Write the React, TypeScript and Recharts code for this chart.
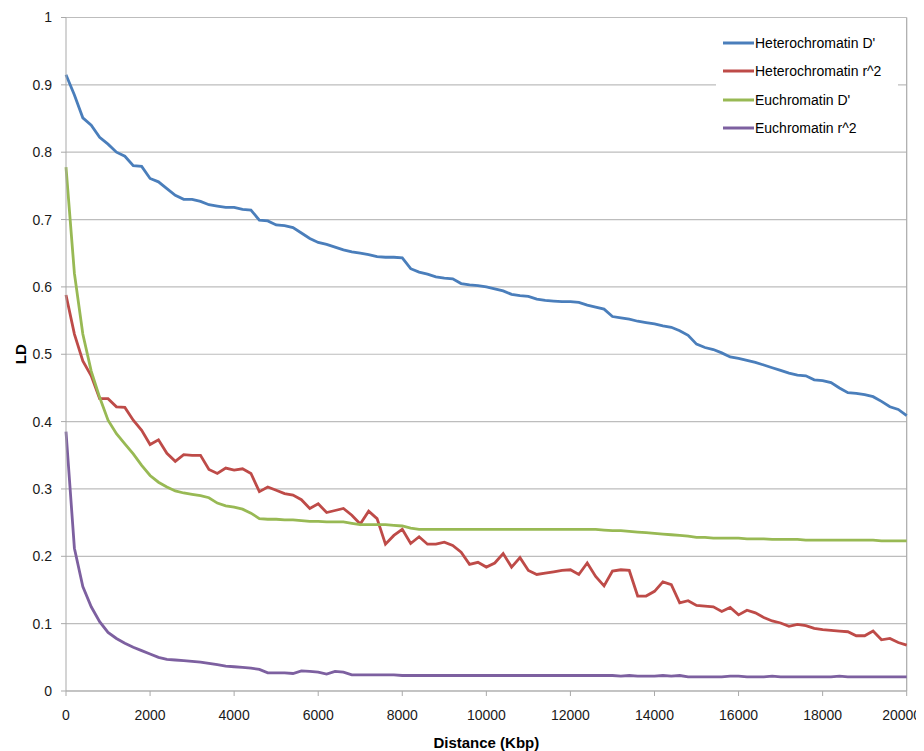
import React from 'react';
import { LineChart, Line, XAxis, YAxis, CartesianGrid, Legend, ReferenceLine, Label } from 'recharts';

const distances: number[] = [
  0, 200, 400, 600, 800, 1000, 1200, 1400, 1600, 1800,
  2000, 2200, 2400, 2600, 2800, 3000, 3200, 3400, 3600, 3800,
  4000, 4200, 4400, 4600, 4800, 5000, 5200, 5400, 5600, 5800,
  6000, 6200, 6400, 6600, 6800, 7000, 7200, 7400, 7600, 7800,
  8000, 8200, 8400, 8600, 8800, 9000, 9200, 9400, 9600, 9800,
  10000, 10200, 10400, 10600, 10800, 11000, 11200, 11400, 11600, 11800,
  12000, 12200, 12400, 12600, 12800, 13000, 13200, 13400, 13600, 13800,
  14000, 14200, 14400, 14600, 14800, 15000, 15200, 15400, 15600, 15800,
  16000, 16200, 16400, 16600, 16800, 17000, 17200, 17400, 17600, 17800,
  18000, 18200, 18400, 18600, 18800, 19000, 19200, 19400, 19600, 19800,
  20000,
];

const heteroD: number[] = [
  0.915, 0.885, 0.851, 0.840, 0.822, 0.812, 0.800, 0.794, 0.780, 0.779,
  0.761, 0.756, 0.746, 0.736, 0.730, 0.730, 0.727, 0.722, 0.720, 0.718,
  0.718, 0.715, 0.714, 0.699, 0.698, 0.692, 0.691, 0.688, 0.680, 0.672,
  0.666, 0.663, 0.659, 0.655, 0.652, 0.650, 0.648, 0.645, 0.644, 0.644,
  0.643, 0.627, 0.622, 0.619, 0.615, 0.613, 0.612, 0.605, 0.603, 0.602,
  0.600, 0.597, 0.594, 0.589, 0.587, 0.586, 0.582, 0.580, 0.579, 0.578,
  0.578, 0.577, 0.573, 0.570, 0.567, 0.556, 0.554, 0.552, 0.549, 0.547,
  0.545, 0.542, 0.540, 0.535, 0.528, 0.515, 0.510, 0.507, 0.502, 0.496,
  0.494, 0.491, 0.488, 0.484, 0.480, 0.476, 0.472, 0.469, 0.468, 0.462,
  0.461, 0.458, 0.450, 0.443, 0.442, 0.440, 0.437, 0.430, 0.422, 0.418,
  0.409,
];

const heteroR2: number[] = [
  0.588, 0.530, 0.490, 0.468, 0.434, 0.434, 0.422, 0.421, 0.402, 0.387,
  0.366, 0.373, 0.353, 0.341, 0.351, 0.350, 0.350, 0.329, 0.323, 0.331,
  0.328, 0.330, 0.323, 0.296, 0.303, 0.298, 0.293, 0.291, 0.284, 0.271,
  0.278, 0.265, 0.268, 0.271, 0.261, 0.248, 0.267, 0.256, 0.218, 0.231,
  0.240, 0.219, 0.229, 0.218, 0.218, 0.221, 0.216, 0.206, 0.188, 0.191,
  0.184, 0.190, 0.204, 0.184, 0.198, 0.179, 0.173, 0.175, 0.177, 0.179,
  0.180, 0.173, 0.190, 0.170, 0.156, 0.178, 0.180, 0.179, 0.141, 0.141,
  0.148, 0.162, 0.158, 0.131, 0.134, 0.127, 0.126, 0.125, 0.118, 0.124,
  0.113, 0.120, 0.116, 0.109, 0.104, 0.101, 0.096, 0.099, 0.097, 0.093,
  0.091, 0.090, 0.089, 0.088, 0.082, 0.082, 0.089, 0.076, 0.078, 0.072,
  0.068,
];

const euD: number[] = [
  0.778, 0.620, 0.530, 0.475, 0.436, 0.402, 0.382, 0.367, 0.352, 0.335,
  0.320, 0.310, 0.303, 0.297, 0.294, 0.292, 0.290, 0.287, 0.279, 0.275,
  0.273, 0.270, 0.264, 0.256, 0.255, 0.255, 0.254, 0.254, 0.253, 0.252,
  0.252, 0.251, 0.251, 0.251, 0.249, 0.247, 0.247, 0.247, 0.247, 0.246,
  0.245, 0.242, 0.240, 0.240, 0.240, 0.240, 0.240, 0.240, 0.240, 0.240,
  0.240, 0.240, 0.240, 0.240, 0.240, 0.240, 0.240, 0.240, 0.240, 0.240,
  0.240, 0.240, 0.240, 0.240, 0.239, 0.238, 0.238, 0.237, 0.236, 0.235,
  0.234, 0.233, 0.232, 0.231, 0.230, 0.228, 0.228, 0.227, 0.227, 0.227,
  0.227, 0.226, 0.226, 0.226, 0.225, 0.225, 0.225, 0.225, 0.224, 0.224,
  0.224, 0.224, 0.224, 0.224, 0.224, 0.224, 0.224, 0.223, 0.223, 0.223,
  0.223,
];

const euR2: number[] = [
  0.385, 0.212, 0.155, 0.125, 0.103, 0.087, 0.078, 0.071, 0.065, 0.060,
  0.055, 0.050, 0.047, 0.046, 0.045, 0.044, 0.043, 0.041, 0.039, 0.037,
  0.036, 0.035, 0.034, 0.032, 0.027, 0.027, 0.027, 0.026, 0.030, 0.029,
  0.028, 0.025, 0.029, 0.028, 0.024, 0.024, 0.024, 0.024, 0.024, 0.024,
  0.023, 0.023, 0.023, 0.023, 0.023, 0.023, 0.023, 0.023, 0.023, 0.023,
  0.023, 0.023, 0.023, 0.023, 0.023, 0.023, 0.023, 0.023, 0.023, 0.023,
  0.023, 0.023, 0.023, 0.023, 0.023, 0.023, 0.022, 0.023, 0.022, 0.022,
  0.022, 0.023, 0.022, 0.023, 0.021, 0.021, 0.021, 0.021, 0.021, 0.022,
  0.022, 0.021, 0.021, 0.021, 0.022, 0.021, 0.021, 0.021, 0.021, 0.021,
  0.021, 0.021, 0.022, 0.021, 0.021, 0.021, 0.021, 0.021, 0.021, 0.021,
  0.021,
];

const xTicks: number[] = [0, 2000, 4000, 6000, 8000, 10000, 12000, 14000, 16000, 18000, 20000];
const yTicks: number[] = [0, 0.1, 0.2, 0.3, 0.4, 0.5, 0.6, 0.7, 0.8, 0.9, 1];

const seriesNames: string[] = ['Heterochromatin D\'', 'Heterochromatin r^2', 'Euchromatin D\'', 'Euchromatin r^2'];
const seriesKeys: string[] = ['heteroD', 'heteroR2', 'euD', 'euR2'];
const seriesColors: string[] = ['#4a7ebb', '#be4b48', '#98b954', '#7d60a0'];

const data = distances.map((d, i) => ({
  distance: d,
  heteroD: heteroD[i],
  heteroR2: heteroR2[i],
  euD: euD[i],
  euR2: euR2[i],
}));

const FONT = '"Liberation Sans", Arial, sans-serif';

const renderLegend = () => (
  <div style={{ background: '#ffffff', padding: '0 0 0 7px', fontFamily: FONT, fontSize: 14, color: '#000' }}>
    {seriesNames.map((n, i) => (
      <div key={n} style={{ display: 'flex', alignItems: 'center', height: 28.3 }}>
        <svg width={31} height={4} style={{ display: 'block' }}>
          <line x1={0} y1={2} x2={31} y2={2} stroke={seriesColors[i]} strokeWidth={3} />
        </svg>
        <span style={{ marginLeft: 1, whiteSpace: 'nowrap' }}>{n}</span>
      </div>
    ))}
  </div>
);

const XTick = (props: any) => {
  const { x, y, payload } = props;
  const last = payload.value === xTicks[xTicks.length - 1];
  return (
    <text
      x={last ? x - 5 : x}
      y={y}
      dy="0.71em"
      textAnchor="middle"
      fill="#1a1a1a"
      fontSize={14}
      fontFamily={FONT}
    >
      {payload.value}
    </text>
  );
};

export default function App() {
  return (
    <div style={{ width: 916, height: 743, background: '#fff' }}>
      <LineChart
        width={916}
        height={743}
        data={data}
        margin={{ top: 9.5, right: 17.3, left: 10, bottom: 0 }}
      >
        <CartesianGrid horizontal={true} vertical={false} stroke="#bdbdbd" strokeWidth={1.2} />
        <XAxis
          dataKey="distance"
          type="number"
          domain={[0, 20000]}
          ticks={xTicks}
          interval={0}
          height={60}
          stroke="#a9a9a9"
          tickSize={5}
          tickMargin={14}
          tick={<XTick />}
        >
          <Label
            content={({ viewBox }: any) => (
              <text
                x={viewBox.x + viewBox.width / 2}
                y={viewBox.y + 51}
                textAnchor="middle"
                dominantBaseline="central"
                fontFamily={FONT}
                fontSize={15}
                fontWeight="bold"
                fill="#000"
              >
                Distance (Kbp)
              </text>
            )}
          />
        </XAxis>
        <YAxis
          type="number"
          domain={[0, 1]}
          ticks={yTicks}
          interval={0}
          width={48}
          stroke="#a9a9a9"
          tickSize={5}
          tickMargin={9}
          tickFormatter={(v: number) => String(v)}
          tick={{ fill: '#1a1a1a', fontSize: 14, fontFamily: FONT }}
        >
          <Label
            content={({ viewBox }: any) => {
              const cx = viewBox.x + 2;
              const cy = viewBox.y + viewBox.height / 2;
              return (
                <text
                  x={cx}
                  y={cy}
                  transform={`rotate(-90 ${cx} ${cy})`}
                  textAnchor="middle"
                  dominantBaseline="central"
                  fontFamily={FONT}
                  fontSize={15}
                  fontWeight="bold"
                  fill="#000"
                >
                  LD
                </text>
              );
            }}
          />
        </YAxis>
        <ReferenceLine x={20000} stroke="#a9a9a9" strokeWidth={1.2} />
        <Legend
          layout="horizontal"
          verticalAlign="middle"
          align="center"
          content={renderLegend}
          wrapperStyle={{ position: 'absolute', top: 21, left: 708, width: 182, height: 'auto' }}
        />
        {seriesKeys.map((k, i) => (
          <Line
            key={k}
            type="linear"
            dataKey={k}
            name={seriesNames[i]}
            stroke={seriesColors[i]}
            strokeWidth={2.8}
            dot={false}
            activeDot={false}
            isAnimationActive={false}
          />
        ))}
      </LineChart>
    </div>
  );
}
